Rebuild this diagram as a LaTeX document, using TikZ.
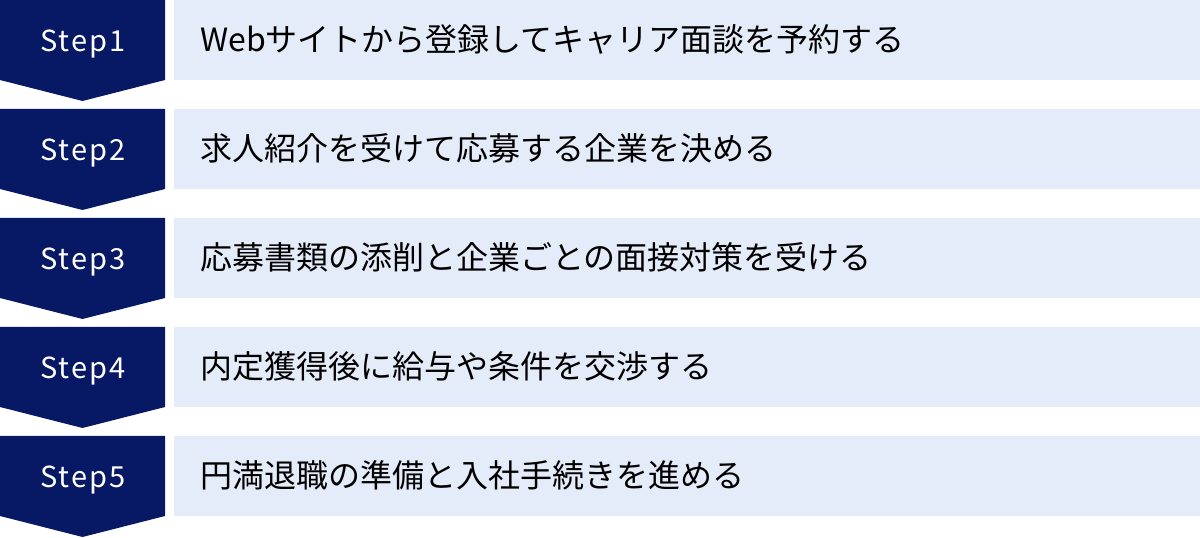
\documentclass[tikz,border=0pt]{standalone}
\usepackage{fontspec}
\setmainfont{Noto Sans CJK JP}
\newfontfamily\stepfont[LetterSpace=7]{Noto Sans CJK JP}
\definecolor{navy}{HTML}{071865}
\definecolor{lightbg}{HTML}{E5ECF9}
\tikzset{
  chevron/.style={fill=navy, draw=none},
  bar/.style={fill=lightbg, draw=none},
  steplabel/.style={text=white, anchor=base, inner sep=0pt, font=\stepfont\fontsize{29}{34}\selectfont},
  desc/.style={text=black, anchor=base west, inner sep=0pt, font=\fontsize{32}{38}\selectfont}
}
\begin{document}
\begin{tikzpicture}[x=1pt,y=1pt]
\useasboundingbox (0,0) rectangle (1200,538);
\foreach \i/\txt in {0/{Webサイトから登録してキャリア面談を予約する},1/{求人紹介を受けて応募する企業を決める},2/{応募書類の添削と企業ごとの面接対策を受ける},3/{内定獲得後に給与や条件を交渉する},4/{円満退職の準備と入社手続きを進める}}{
  \pgfmathsetmacro{\t}{538-109*\i}
  \fill[chevron] (0,\t) -- (165,\t) -- (165,\t-80) -- (82.5,\t-101) -- (0,\t-80) -- cycle;
  \fill[bar] (174,\t) rectangle (1200,\t-80);
  \node[steplabel] (s\i) at (83,\t-52) {Step\the\numexpr\i+1\relax};
  \node[desc] (d\i) at (200,\t-52) {\txt};
}
\end{tikzpicture}
\end{document}
